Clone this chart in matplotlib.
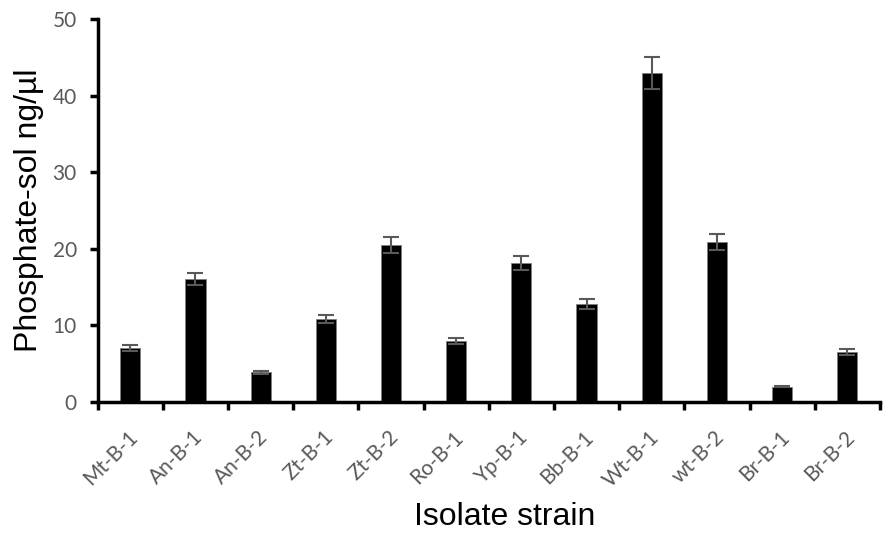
import matplotlib
matplotlib.use("Agg")
import matplotlib.pyplot as plt
import matplotlib.transforms as mtransforms
import numpy as np

categories = ["Mt-B-1", "An-B-1", "An-B-2", "Zt-B-1", "Zt-B-2", "Ro-B-1",
              "Yp-B-1", "Bb-B-1", "Wt-B-1", "wt-B-2", "Br-B-1", "Br-B-2"]
values = [7.0, 16.1, 3.9, 10.8, 20.5, 7.9, 18.1, 12.8, 43.0, 20.9, 2.0, 6.5]
errors = [0.4, 0.8, 0.2, 0.5, 1.0, 0.4, 0.9, 0.6, 2.1, 1.0, 0.1, 0.4]
yticks = [0, 10, 20, 30, 40, 50]

fig = plt.figure(figsize=(8.96, 5.33), dpi=100)
ax = fig.add_axes([0.109, 0.246, 0.873, 0.718])

x = np.arange(len(categories))
ax.bar(x, values, width=0.31, color="black", edgecolor="#7f7f7f", linewidth=0.6, zorder=2)
ax.errorbar(x, values, yerr=errors, fmt="none", ecolor="#595959", elinewidth=1.5,
            capsize=6, capthick=1.5, zorder=3)

ax.set_xlim(-0.5, len(categories) - 0.5)
ax.set_ylim(0, 50)
ax.set_yticks(yticks)
ax.set_yticklabels([str(t) for t in yticks], fontsize=15, color="#595959", family="Lato")

ax.set_xticks(x)
ax.set_xticklabels(categories, rotation=45, ha="right", rotation_mode="anchor",
                   fontsize=15, color="#595959", family="Lato")
ax.tick_params(axis="x", which="major", length=0, pad=18)
offset = mtransforms.ScaledTranslation(-3 / 100, 0, fig.dpi_scale_trans)
for lbl in ax.get_xticklabels():
    lbl.set_transform(lbl.get_transform() + offset)
ax.set_xticks(np.arange(-0.5, len(categories)), minor=True)
ax.tick_params(axis="x", which="minor", length=6, width=2.5, direction="out", color="black")
ax.tick_params(axis="y", length=6, width=2.5, direction="out", color="black", pad=9)

for s in ["top", "right"]:
    ax.spines[s].set_visible(False)
for s in ["left", "bottom"]:
    ax.spines[s].set_linewidth(2.5)
    ax.spines[s].set_color("black")

ax.set_ylabel("Phosphate-sol ng/µl", fontsize=23, family="Liberation Sans", labelpad=6)
ax.set_xlabel("Isolate strain", fontsize=23, family="Liberation Sans", labelpad=10)
ax.xaxis.set_label_coords(0.52, -0.262)

fig.savefig("out.png", dpi=100)
